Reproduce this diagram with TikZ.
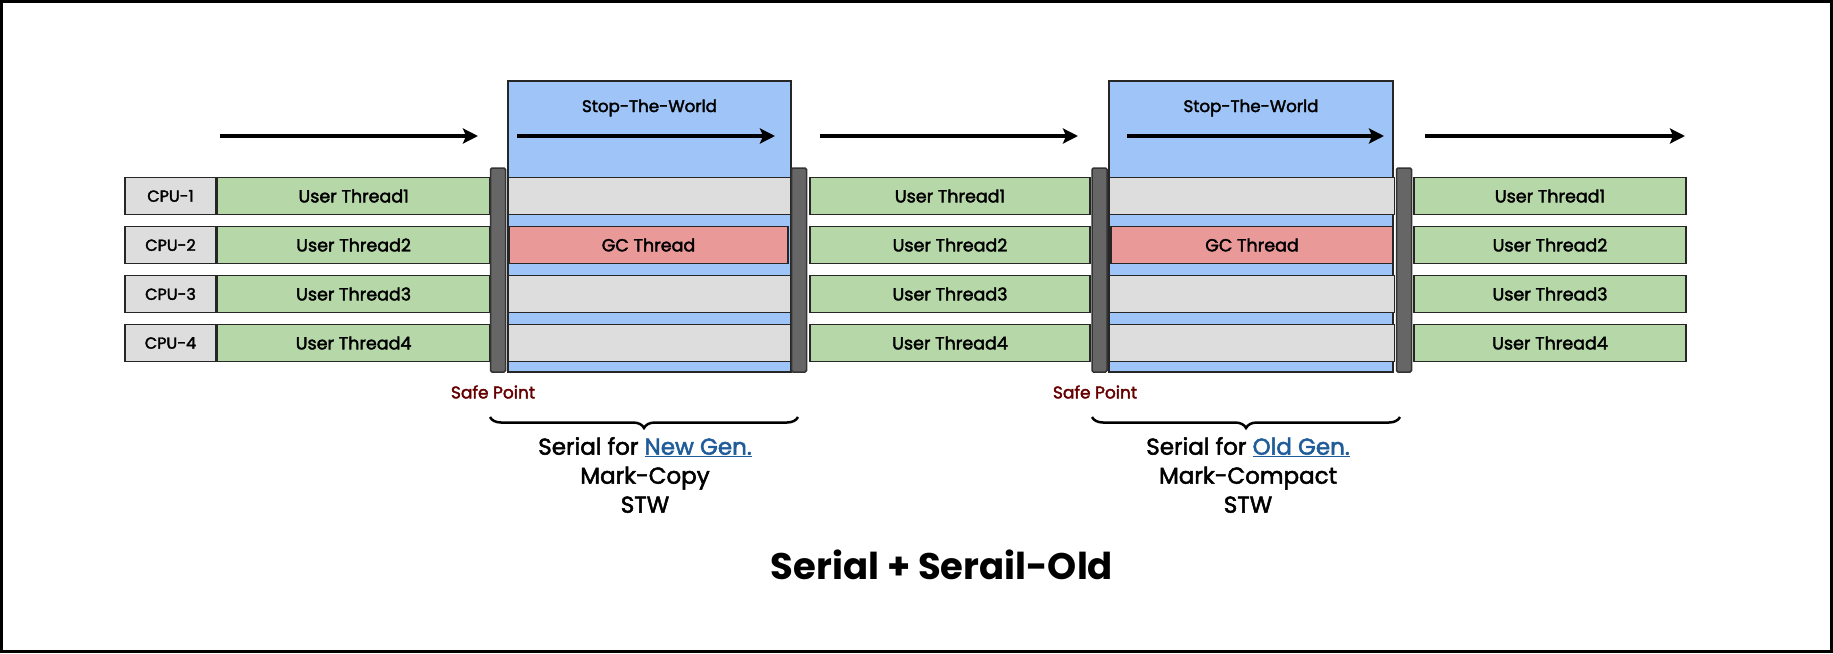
\documentclass[tikz,border=0pt]{standalone}
\usepackage{fontspec}
\setmainfont{Poppins}[UprightFeatures={FakeBold=2.2}]
\usepackage{xcolor}
\usetikzlibrary{arrows.meta,positioning,decorations.pathreplacing}
\definecolor{cpugray}{HTML}{DDDDDD}
\definecolor{utgreen}{HTML}{B6D7A8}
\definecolor{gcred}{HTML}{EA9999}
\definecolor{stwblue}{HTML}{9FC5F8}
\definecolor{bargray}{HTML}{666666}
\definecolor{safered}{HTML}{660000}
\definecolor{genblue}{HTML}{1F5C99}
\newcommand{\gen}[1]{{\color{genblue}\underline{#1}}}

\begin{document}
\begin{tikzpicture}[x=1pt,y=-1pt,>={Stealth[length=15pt,width=15pt,inset=3pt]},
lane/.style={draw=black!85,line width=1.6pt,minimum height=37pt,inner sep=0pt,font=\fontsize{17.5}{20}\selectfont},
cpu/.style={lane,fill=cpugray,minimum width=91pt,font=\fontsize{16}{20}\selectfont},
ut/.style={lane,fill=utgreen,minimum width=272pt},
idle/.style={lane,fill=cpugray,minimum width=283pt},
gc/.style={lane,fill=gcred,minimum width=279pt},
stw/.style={draw=black!85,line width=1.6pt,fill=stwblue,minimum width=283pt,minimum height=291pt,inner sep=0pt},
safe/.style={draw=black!80,line width=1.5pt,fill=bargray,minimum width=15pt,minimum height=204pt,inner sep=0pt,rounded corners=1.5pt},
flow/.style={->,line width=3.5pt},
curl/.style={decorate,decoration={brace,amplitude=11pt},line width=2.5pt},
note/.style={align=center,font=\fontsize{23}{29}\selectfont}]
\useasboundingbox (0,0) rectangle (1833,653);
\draw[line width=3pt] (1.5,1.5) rectangle (1831.5,651.5);

% stop-the-world windows
\node[stw] (stwA) at (649.5,226.5) {};
\node[stw,minimum width=284pt] (stwB) at (1251,226.5) {};
\node[font=\fontsize{16.7}{20}\selectfont] (stwAlbl) at (649.5,108) {Stop-The-World};
\node[font=\fontsize{16.7}{20}\selectfont] (stwBlbl) at (1251,108) {Stop-The-World};

% timeline
\foreach \n/\a/\b in {1/220/478,2/517/775,3/820/1078,4/1127/1384,5/1425/1685}{
  \coordinate (from\n) at (\a,136);
  \coordinate (to\n) at (\b,136);
  \draw[flow] (from\n) -- (to\n);
}

% cpu lanes
\foreach \i/\y in {1/196,2/245,3/294,4/343}{
  \node[cpu] (cpu\i) at (170.5,\y) {CPU-\i};
  \node[ut,right=0pt of cpu\i] (uA\i) {User Thread\i};
  \node[ut,minimum width=280pt] (uB\i) at (950,\y) {User Thread\i};
  \node[ut] (uC\i) at (1550,\y) {User Thread\i};
}
\foreach \i/\y in {1/196,3/294,4/343}{
  \node[idle] (iA\i) at (649.5,\y) {};
  \node[idle,minimum width=285pt] (iB\i) at (1252,\y) {};
}
\node[gc] (gcA) at (648.5,245) {GC Thread};
\node[gc,minimum width=282pt] (gcB) at (1252,245) {GC Thread};

% safe points
\foreach \n/\x in {1/498,2/799,3/1099.5,4/1404}
  \node[safe] (sp\n) at (\x,270) {};
\node[font=\fontsize{17}{20}\selectfont,text=safered] (spA) at (493,392) {Safe Point};
\node[font=\fontsize{17}{20}\selectfont,text=safered] (spB) at (1095,392) {Safe Point};

% braces and notes
\coordinate (bA1) at (490,417);
\coordinate (bA2) at (798,417);
\coordinate (bB1) at (1092,417);
\coordinate (bB2) at (1400,417);
\draw[curl] (bA2) -- (bA1);
\draw[curl] (bB2) -- (bB1);
\node[note] (noteA) at (645,475) {Serial for \gen{New Gen.}\\Mark-Copy\\STW};
\node[note] (noteB) at (1248,475) {Serial for \gen{Old Gen.}\\Mark-Compact\\STW};

\node[font=\bfseries\fontsize{37}{42}\selectfont] (title) at (942,565) {Serial + Serail-Old};
\end{tikzpicture}
\end{document}
